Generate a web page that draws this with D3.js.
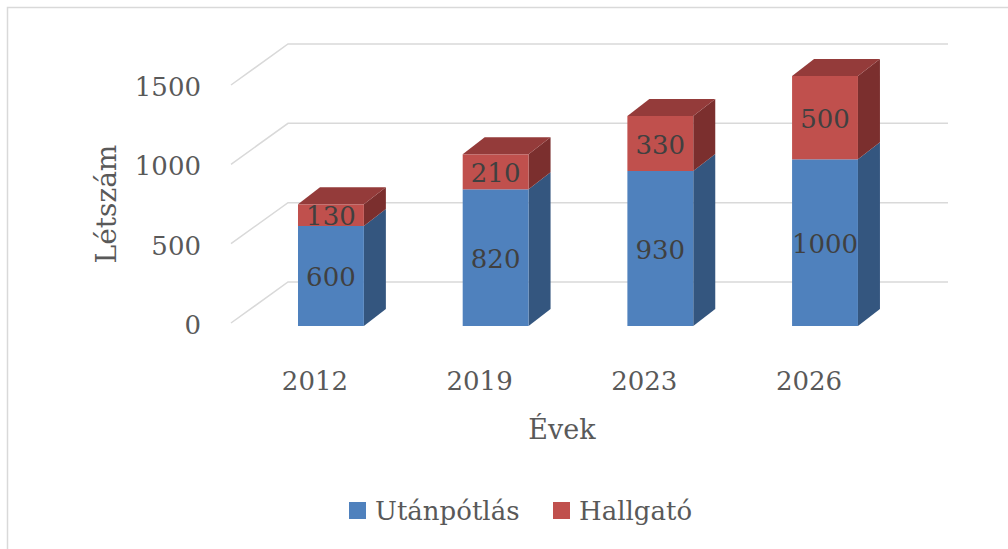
<!DOCTYPE html>
<html>
<head>
<meta charset="utf-8">
<script src="https://cdn.jsdelivr.net/npm/d3@7"></script>
<style>
html,body{margin:0;padding:0;background:#fff;}
svg{display:block;font-family:"DejaVu Serif",serif;}
</style>
</head>
<body>
<svg id="chart" width="1008" height="549"></svg>
<script>
const years = ["2012", "2019", "2023", "2026"];
const utanpotlas = [600, 820, 930, 1000];
const hallgato = [130, 210, 330, 500];
const yTicks = [0, 500, 1000, 1500];
const seriesNames = ["Utánpótlás", "Hallgató"];

const svg = d3.select("#chart");
const textColor = "#595959";
const gridColor = "#d9d9d9";
const colors = {
  blue: {front: "#4F81BD", side: "#34567F", top: "#3F6897"},
  red: {front: "#C0504D", side: "#7B2F2E", top: "#943B3A"}
};

// chart border (top and left only visible)
svg.append("path").attr("d", "M7.5,549 L7.5,7.5 L1008,7.5")
  .attr("fill", "none").attr("stroke", gridColor).attr("stroke-width", 1.5);

// scales
const yFront = d3.scaleLinear().domain([0, 1500]).range([323, 85]);
const yBar = d3.scaleLinear().domain([0, 1500]).range([326, 76]);
const x = d3.scaleBand().domain(years).range([215.65, 940.3]).paddingInner(0.6).paddingOuter(0.5);
const wallDx = 57, wallDy = -41, wallRight = 948, frontX = 231;
const depthDx = 22, depthDy = -17;

// gridlines (wall + floor)
const grid = svg.append("g");
yTicks.forEach(t => {
  const y0 = yFront(t);
  grid.append("path")
    .attr("d", `M${frontX},${y0} L${frontX + wallDx},${y0 + wallDy} L${wallRight},${y0 + wallDy}`)
    .attr("fill", "none").attr("stroke", gridColor).attr("stroke-width", 1.5);
});

// y tick labels
svg.append("g").selectAll("text").data(yTicks).join("text")
  .attr("x", 201).attr("y", d => yFront(d) + 11)
  .attr("text-anchor", "end").attr("fill", textColor)
  .attr("font-size", 26).text(d => d);

// bars
const barsG = svg.append("g");
years.forEach((yr, i) => {
  const x0 = x(yr), w = x.bandwidth();
  const segs = [
    {v0: 0, v1: utanpotlas[i], c: colors.blue, val: utanpotlas[i]},
    {v0: utanpotlas[i], v1: utanpotlas[i] + hallgato[i], c: colors.red, val: hallgato[i]}
  ];
  segs.forEach((s, j) => {
    const yt = yBar(s.v1), yb = yBar(s.v0);
    const g = barsG.append("g");
    // side
    g.append("path")
      .attr("d", `M${x0 + w},${yb} L${x0 + w + depthDx},${yb + depthDy} L${x0 + w + depthDx},${yt + depthDy} L${x0 + w},${yt} Z`)
      .attr("fill", s.c.side);
    // front
    g.append("rect").attr("x", x0).attr("y", yt).attr("width", w).attr("height", yb - yt)
      .attr("fill", s.c.front);
    // top for last segment
    if (j === segs.length - 1) {
      g.append("path")
        .attr("d", `M${x0},${yt} L${x0 + depthDx},${yt + depthDy} L${x0 + w + depthDx},${yt + depthDy} L${x0 + w},${yt} Z`)
        .attr("fill", s.c.top);
    }
  });
  // labels
  segs.forEach(s => {
    const yt = yBar(s.v1), yb = yBar(s.v0);
    barsG.append("text")
      .attr("x", x0 + w / 2).attr("y", (yt + yb) / 2 + 10)
      .attr("text-anchor", "middle").attr("fill", "#404040")
      .attr("font-size", 26).text(s.val);
  });
});

// x category labels
svg.append("g").selectAll("text").data(years).join("text")
  .attr("x", d => x(d) + x.bandwidth() / 2 - 16).attr("y", 390)
  .attr("text-anchor", "middle").attr("fill", textColor)
  .attr("font-size", 26).text(d => d);

// axis titles
svg.append("text").attr("x", 562).attr("y", 439).attr("text-anchor", "middle")
  .attr("fill", textColor).attr("font-size", 27).text("Évek");
svg.append("text").attr("transform", "translate(116,204) rotate(-90)")
  .attr("text-anchor", "middle").attr("fill", textColor).attr("font-size", 28).text("Létszám");

// legend
const legend = svg.append("g");
const legendItems = [
  {name: seriesNames[0], color: colors.blue.front, x: 349},
  {name: seriesNames[1], color: colors.red.front, x: 553}
];
legendItems.forEach(it => {
  legend.append("rect").attr("x", it.x).attr("y", 502).attr("width", 17).attr("height", 17).attr("fill", it.color);
  legend.append("text").attr("x", it.x + 26).attr("y", 520).attr("fill", textColor)
    .attr("font-size", 26).text(it.name);
});
</script>
</body>
</html>
